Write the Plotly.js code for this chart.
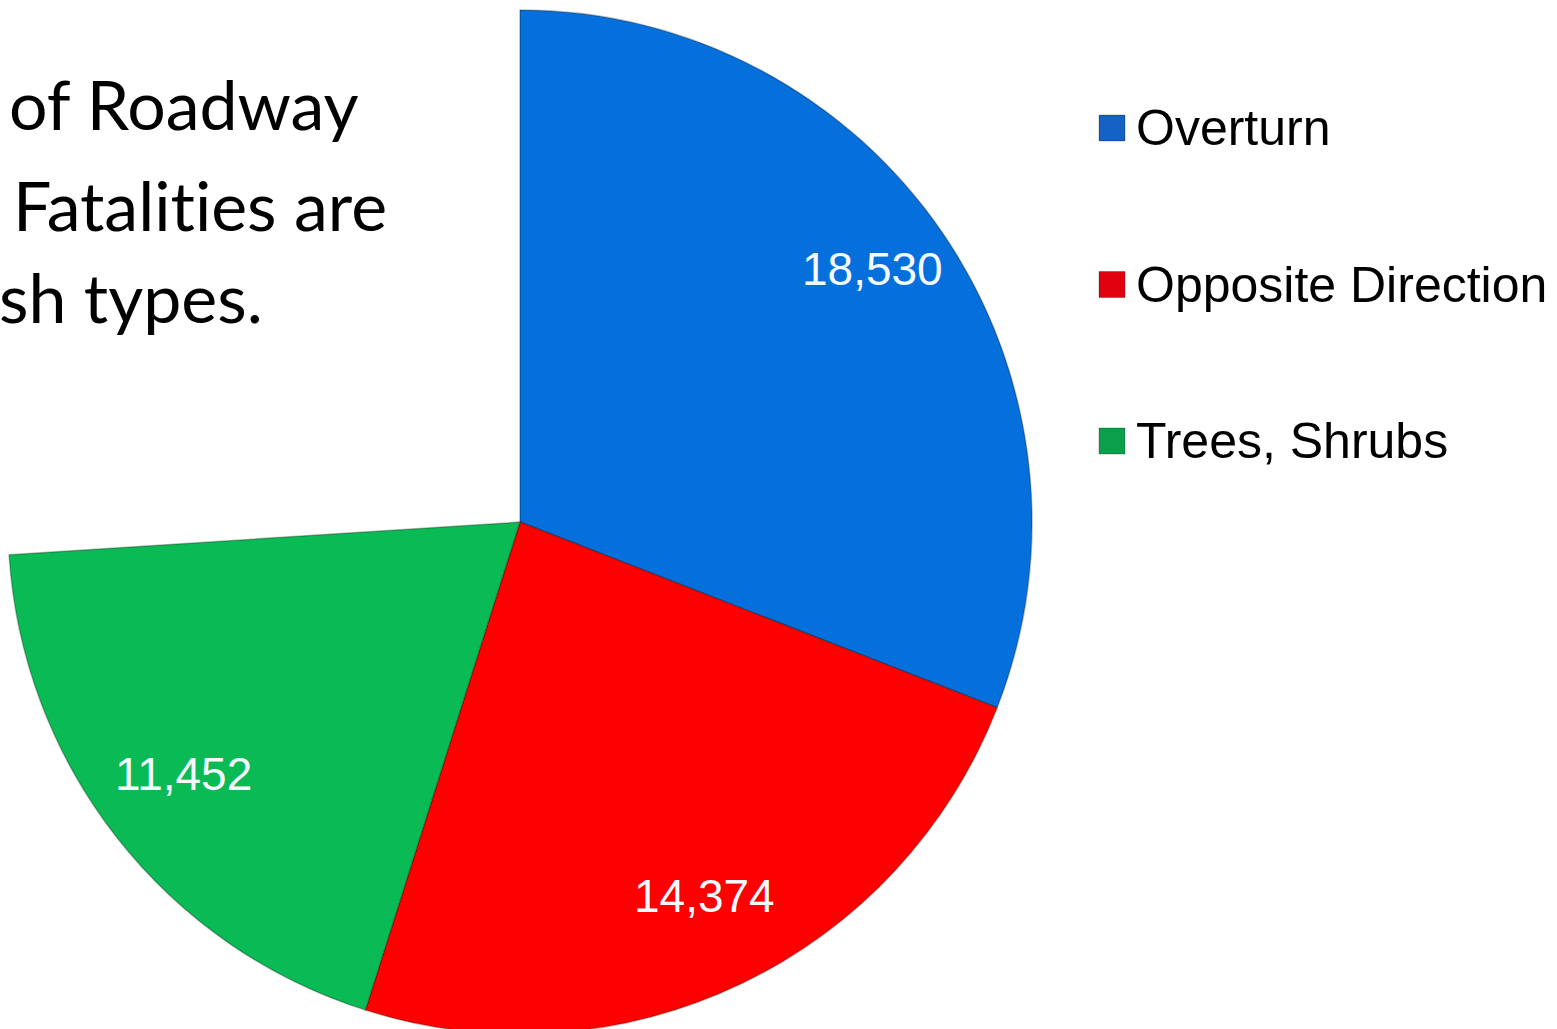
<!DOCTYPE html>
<html><head><meta charset="utf-8">
<script src="https://cdn.plot.ly/plotly-3.0.1.min.js"></script>
<style>
html,body{margin:0;padding:0;background:#fff;overflow:hidden}
svg text{font-variant-ligatures:none;font-feature-settings:"liga" 0,"clig" 0;}
</style>
</head><body><div id="chart" style="width:1557px;height:1040px"></div>
<script>
// ---- data ----
const categories = ['Overturn', 'Opposite Direction', 'Trees, Shrubs'];
const values = [18530, 14374, 11452];
// blank (uncoloured) remainder of the pie, estimated from the missing angle
const hiddenLabel = 'Other';
const hiddenValue = 15600;
const sliceColors = ['#0570DC', '#FE0000', '#0ABA55'];
const legendColors = ['#1562C6', '#E0000E', '#0B9F4C'];
const captionLines = ['of Roadway', 'Fatalities are', 'sh types.'];

// ---- layout geometry ----
const W = 1557, H = 1040;
const cx = 520, cy = 522, R = 512;
const domain = { x: [(cx - R) / W, (cx + R) / W], y: [1 - (cy + R) / H, 1 - (cy - R) / H] };

const allLabels = categories.concat([hiddenLabel]);
const allValues = values.concat([hiddenValue]);
const allColors = sliceColors.concat(['rgba(255,255,255,0)']);
const lineColors = categories.map(() => 'rgba(0,0,0,0.28)').concat(['rgba(0,0,0,0)']);

const trace = {
  type: 'pie',
  labels: allLabels,
  values: allValues,
  sort: false,
  direction: 'clockwise',
  rotation: 0,
  domain: domain,
  marker: { colors: allColors, line: { color: lineColors, width: 1.5 } },
  textinfo: 'none',
  hoverinfo: 'label+value',
  showlegend: false
};

const total = allValues.reduce((a, b) => a + b, 0);
const annotations = [];
const shapes = [];
let cum = 0;
values.forEach((v, i) => {
  const mid = (cum + v / 2) / total * 2 * Math.PI;
  cum += v;
  const rf = 0.835;
  const px = cx + rf * R * Math.sin(mid);
  const py = cy - rf * R * Math.cos(mid) - 12;
  annotations.push({
    xref: 'paper', yref: 'paper', x: px / W, y: 1 - py / H,
    xanchor: 'center', yanchor: 'middle', showarrow: false,
    text: v.toLocaleString('en-US'),
    font: { family: 'Liberation Sans, Arial, sans-serif', size: 46, color: '#F4FAFF' }
  });
});

// custom legend
const legX = 1099, legSize = 26, legY0 = 128, legGap = 156.5;
categories.forEach((c, i) => {
  const yc = legY0 + i * legGap;
  shapes.push({
    type: 'rect', xref: 'paper', yref: 'paper',
    x0: legX / W, x1: (legX + legSize) / W,
    y0: 1 - (yc + legSize / 2) / H, y1: 1 - (yc - legSize / 2) / H,
    fillcolor: legendColors[i], line: { color: 'rgba(0,0,0,0.25)', width: 1 }
  });
  annotations.push({
    xref: 'paper', yref: 'paper', x: 1134 / W, y: 1 - yc / H,
    xanchor: 'left', yanchor: 'middle', showarrow: false,
    text: c,
    font: { family: 'Liberation Sans, Arial, sans-serif', size: 50, color: '#000' }
  });
});

// caption text (partially visible slide text)
const capX = [7, 11, -3];
const capY = [104, 205, 296];
captionLines.forEach((t, i) => {
  annotations.push({
    xref: 'paper', yref: 'paper', x: capX[i] / W, y: 1 - capY[i] / H,
    xanchor: 'left', yanchor: 'middle', showarrow: false,
    text: t,
    font: { family: 'Lato, Open Sans, sans-serif', size: 68, color: '#000' }
  });
});

const layout = {
  width: W, height: H,
  margin: { l: 0, r: 0, t: 0, b: 0 },
  paper_bgcolor: '#fff',
  showlegend: false,
  annotations: annotations,
  shapes: shapes
};

Plotly.newPlot('chart', [trace], layout, { displayModeBar: false, staticPlot: true });
</script>
</body></html>
